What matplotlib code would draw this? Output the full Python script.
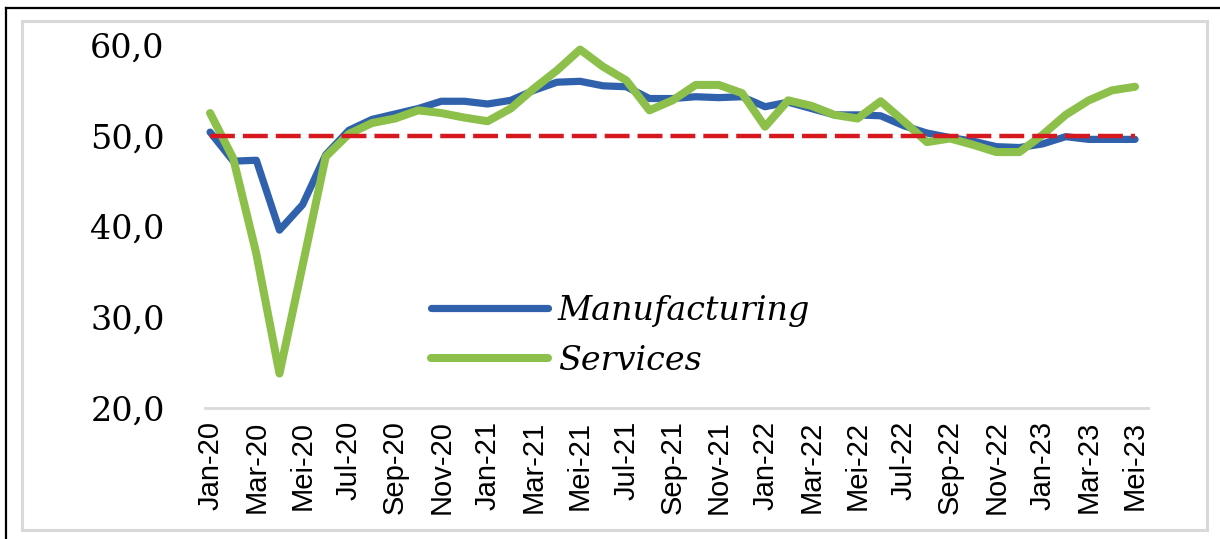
import numpy as np
import matplotlib
matplotlib.use("Agg")
import matplotlib.pyplot as plt
from matplotlib.patches import Rectangle
from matplotlib.lines import Line2D

months = ["Jan-20", "Feb-20", "Mar-20", "Apr-20", "Mei-20", "Jun-20", "Jul-20", "Agu-20",
          "Sep-20", "Okt-20", "Nov-20", "Des-20",
          "Jan-21", "Feb-21", "Mar-21", "Apr-21", "Mei-21", "Jun-21", "Jul-21", "Agu-21",
          "Sep-21", "Okt-21", "Nov-21", "Des-21",
          "Jan-22", "Feb-22", "Mar-22", "Apr-22", "Mei-22", "Jun-22", "Jul-22", "Agu-22",
          "Sep-22", "Okt-22", "Nov-22", "Des-22",
          "Jan-23", "Feb-23", "Mar-23", "Apr-23", "Mei-23"]

manufacturing = [50.4, 47.2, 47.3, 39.6, 42.4, 47.9, 50.6, 51.8, 52.4, 53.0, 53.8, 53.8,
                 53.5, 53.9, 55.0, 55.9, 56.0, 55.5, 55.4, 54.1, 54.1, 54.3, 54.2, 54.3,
                 53.2, 53.7, 53.0, 52.3, 52.3, 52.2, 51.1, 50.3, 49.8, 49.4, 48.8, 48.7,
                 49.1, 49.9, 49.6, 49.6, 49.6]

services = [52.5, 47.5, 37.0, 23.8, 35.7, 47.7, 50.2, 51.4, 51.9, 52.8, 52.5, 52.0,
            51.6, 53.0, 55.2, 57.2, 59.5, 57.6, 56.1, 52.8, 53.9, 55.6, 55.6, 54.7,
            51.0, 53.9, 53.3, 52.3, 51.9, 53.8, 51.6, 49.3, 49.7, 49.0, 48.2, 48.2,
            50.1, 52.3, 53.9, 55.0, 55.4]

threshold = 50.0
y_ticks = [20, 30, 40, 50, 60]

W, H = 1220, 539
fig = plt.figure(figsize=(W / 100, H / 100), dpi=100)

# outer black border and grey chart frame (pixel based)
fig.add_artist(Line2D([6 / W, 6 / W], [0, 1 - 8 / H], color="black", lw=1.6))
fig.add_artist(Line2D([6 / W, 1], [1 - 8 / H, 1 - 8 / H], color="black", lw=1.6))
fig.add_artist(Rectangle((22 / W, 1 - 530 / H), (1207 - 22) / W, (530 - 21) / H,
                         fill=False, edgecolor="#D9D9D9", lw=2.2))

ax = fig.add_axes([205 / W, 1 - 408 / H, (1148 - 205) / W, (408 - 45) / H])

x = np.arange(len(months))
ax.plot(x, manufacturing, color="#3061AC", lw=5.2, solid_capstyle="round",
        solid_joinstyle="round", label="Manufacturing", zorder=3, clip_on=False)
ax.plot(x, services, color="#8DC04A", lw=5.8, solid_capstyle="round",
        solid_joinstyle="round", label="Services", zorder=4, clip_on=False)
ax.plot(x, [threshold] * len(x), color="#D7191F", lw=3.2, dashes=(5.6, 1.8),
        zorder=5, clip_on=False)

ax.set_xlim(-0.22, 40.56)
ax.set_ylim(20, 60)
ax.set_yticks(y_ticks)
ax.set_yticklabels([f"{v:.1f}".replace(".", ",") for v in y_ticks],
                   family="DejaVu Serif", fontsize=24)
ax.set_xticks(x[::2])
ax.set_xticklabels(months[::2], rotation=90, family="Liberation Sans", fontsize=21)
ax.tick_params(axis="y", length=0, pad=29)
ax.tick_params(axis="x", length=0, pad=9)

for s in ["top", "right", "left"]:
    ax.spines[s].set_visible(False)
ax.spines["bottom"].set_color("#D9D9D9")
ax.spines["bottom"].set_linewidth(2)

leg = ax.legend(loc="upper left", bbox_to_anchor=(0.222, 0.358), frameon=False,
                borderpad=0, handlelength=3.5, handletextpad=0.3, labelspacing=0.55,
                prop={"family": "DejaVu Serif", "style": "italic", "size": 24})

fig.savefig("out.png", dpi=100)
